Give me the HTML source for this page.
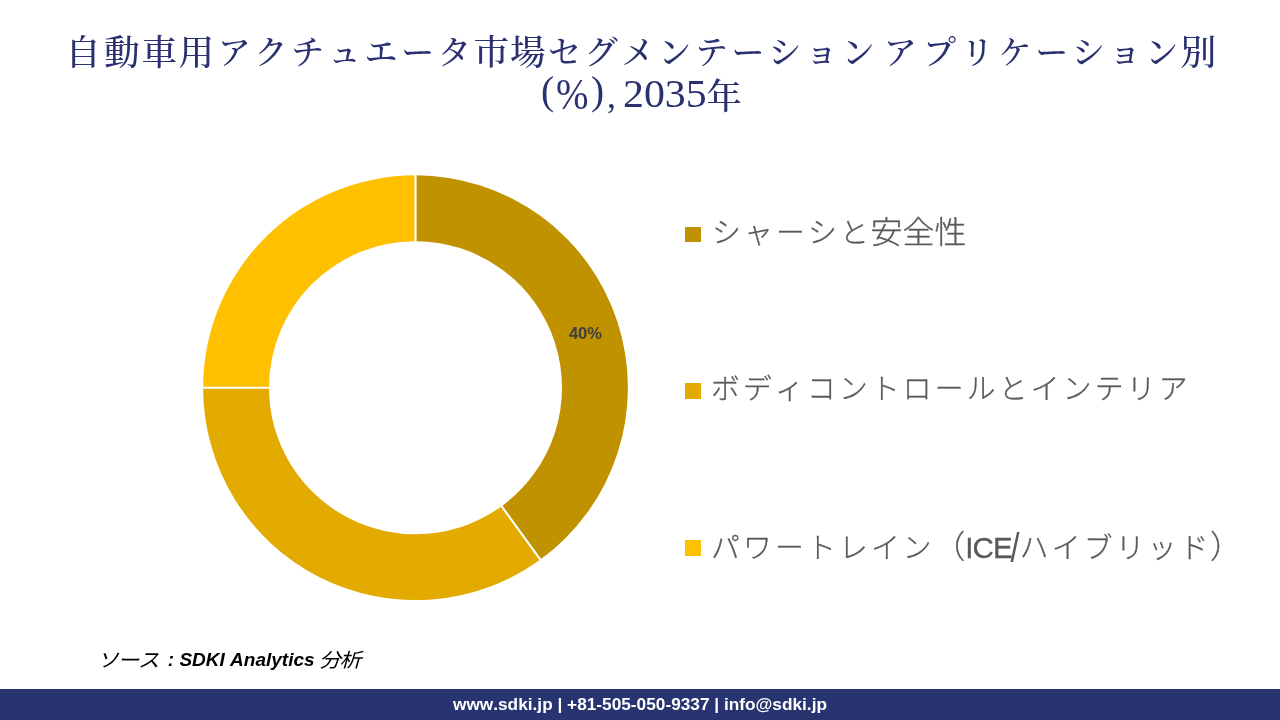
<!DOCTYPE html>
<html lang="ja">
<head>
<meta charset="utf-8">
<title>自動車用アクチュエータ市場セグメンテーション</title>
<style>
html,body{margin:0;padding:0;background:#fff;}
body{width:1280px;height:720px;position:relative;overflow:hidden;font-family:"Liberation Sans","Noto Sans CJK JP",sans-serif;}
.title{position:absolute;left:3.5px;top:31px;width:1280px;text-align:center;color:#2a3171;
  font-family:"Liberation Serif","Noto Serif CJK SC",serif;font-size:35.7px;letter-spacing:1px;line-height:44px;font-weight:500;white-space:nowrap;
  font-kerning:none;font-feature-settings:"kern" 0,"palt" 0;}
.title .k{font-size:33px;letter-spacing:3.7px;position:relative;left:1.35px;top:-1.3px;}
.title2,.srcline{position:absolute;left:0;top:0;width:0;height:0;font-size:0;}
.t2{position:absolute;display:block;color:#2a3171;font-family:"Liberation Serif","Noto Serif CJK SC",serif;font-size:36.7px;line-height:1;font-weight:500;white-space:nowrap;font-kerning:none;transform-origin:0 50%;}
.chart{position:absolute;left:0;top:0;}
.legend{position:absolute;left:709px;color:#595959;font-family:"Liberation Sans","Noto Sans CJK JP",sans-serif;font-weight:300;font-size:32px;line-height:40px;white-space:nowrap;font-kerning:none;-webkit-text-stroke:0.3px #595959;}
.legend .lat{font-size:29.5px;letter-spacing:-0.9px;}
.legend .sl{-webkit-text-stroke:0;font-size:29.5px;display:inline-block;line-height:1;transform:scale(1.1,1.36);transform-origin:50% 50%;position:relative;top:0.2px;margin-left:-0.3px;margin-right:-1.6px;}
.legend .k{font-size:28.8px;letter-spacing:3.2px;position:relative;left:1.6px;}
.legend .kj{display:inline-block;transform:scaleY(0.95);transform-origin:0 84%;}
.sw{position:absolute;left:685.1px;width:15.6px;height:15.6px;}
.source{position:absolute;display:block;top:646.6px;font-style:italic;font-size:19px;line-height:26px;color:#000;white-space:nowrap;font-kerning:none;font-family:"Liberation Sans","Noto Sans CJK JP",sans-serif;}
.source.j{font-size:19.5px;letter-spacing:-1.3px;transform:scaleX(1.12);transform-origin:0 50%;}
.source.b{font-weight:700;}
.footer{position:absolute;left:0;top:689px;width:1280px;height:31px;background:#27346f;color:#fff;text-align:center;font-weight:700;font-size:17.25px;line-height:30px;white-space:nowrap;font-kerning:none;}
</style>
</head>
<body>
<div class="title"><span class="l1"><span style="position:relative;left:-4.5px">自</span><span style="position:relative;left:-2.5px">動</span><span style="position:relative;left:-1.6px">車</span><span style="position:relative;left:-1.2px">用</span><span class="k">アクチュエータ</span>市場<span class="k">セグメンテーション</span> <span class="k"><span style="position:relative;left:-4.5px">ア</span><span style="position:relative;left:-2px">プ</span><span style="position:relative;left:-1px">リ</span>ケーション</span>別</span></div>
<div class="title2"><span class="t2" style="left:541.1px;top:71.8px;font-size:39.3px;">(</span><span class="t2" style="left:556.1px;top:72.9px;font-size:43.3px;transform:scaleX(0.9);">%</span><span class="t2" style="left:590.9px;top:71.8px;font-size:39.3px;">)</span><span class="t2" style="left:607.1px;top:77.6px;font-size:36px;">,</span> <span class="t2" style="left:622.8px;top:74.6px;font-size:39.5px;transform:scaleX(1.06);">2035</span><span class="t2" style="left:706.4px;top:76px;line-height:44px;font-size:35.2px;">年</span></div>

<svg class="chart" width="1280" height="720" viewBox="0 0 1280 720">
  <g id="donut">
    <path d="M415.50 175.30A212.4 212.4 0 0 1 540.35 559.54L501.61 506.22A146.5 146.5 0 0 0 415.50 241.20Z" fill="#c09200"/>
    <path d="M540.35 559.54A212.4 212.4 0 0 1 203.10 387.70L269.00 387.70A146.5 146.5 0 0 0 501.61 506.22Z" fill="#e3ab00"/>
    <path d="M203.10 387.70A212.4 212.4 0 0 1 415.50 175.30L415.50 241.20A146.5 146.5 0 0 0 269.00 387.70Z" fill="#ffc000"/>
    <line x1="415.50" y1="174.30" x2="415.50" y2="242.20" stroke="#fff" stroke-width="2.1"/>
    <line x1="540.93" y1="560.34" x2="501.02" y2="505.41" stroke="#fff" stroke-width="2.1"/>
    <line x1="202.10" y1="387.70" x2="270.00" y2="387.70" stroke="#fff" stroke-width="2.1"/>
  </g>
  <text x="585.5" y="338.6" text-anchor="middle" font-family="Liberation Sans, sans-serif" font-weight="700" font-size="16" fill="#404040" textLength="33.2" lengthAdjust="spacingAndGlyphs">40%</text>
</svg>

<div class="sw" style="top:226.8px;background:#c09200"></div>
<div class="legend" style="top:212.4px;left:710.5px;"><span class="k">シャーシと</span><span class="kj">安全性</span></div>
<div class="sw" style="top:383.3px;background:#e3ab00"></div>
<div class="legend" style="top:368px;left:709.3px;"><span class="k">ボディコントロールとインテリア</span></div>
<div class="sw" style="top:540px;background:#ffc000"></div>
<div class="legend" style="top:526.5px;left:709.3px;"><span class="k">パワートレイン</span>（<span class="lat">ICE</span><span class="sl">/</span><span class="k">ハイブリッド</span>）</div>

<div class="srcline"><span class="source j" style="left:97.3px;">ソース</span> <span class="source b" style="left:167.8px;">: SDKI Analytics</span> <span class="source j" style="left:319px;">分析</span></div>
<div class="footer">www.sdki.jp | +81-505-050-9337 | info@sdki.jp</div>
</body>
</html>
